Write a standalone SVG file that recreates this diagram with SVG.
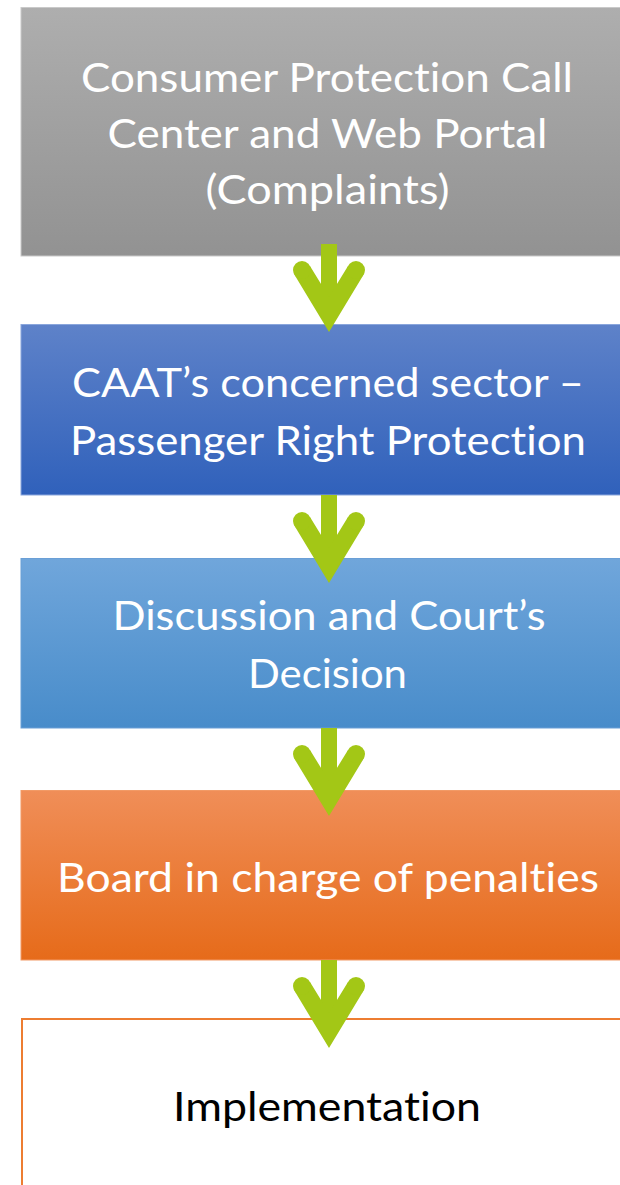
<svg xmlns="http://www.w3.org/2000/svg" width="620" height="1185" viewBox="0 0 620 1185">
  <style>
    .lbl { font-family: Lato, "Open Sans", "Liberation Sans", sans-serif; font-size: 41px; fill: #ffffff; text-anchor: middle; font-variant-ligatures: none; font-feature-settings: "liga" 0, "clig" 0; }
    .dark { fill: #000000; }
    .box { stroke-width: 1; }
    .arrow { fill: #a3c716; }
  </style>
  <defs>
    <linearGradient id="gGray" x1="0" y1="0" x2="0" y2="1">
      <stop offset="0" stop-color="#aeaeae"/>
      <stop offset="1" stop-color="#929292"/>
    </linearGradient>
    <linearGradient id="gBlue" x1="0" y1="0" x2="0" y2="1">
      <stop offset="0" stop-color="#5e82c9"/>
      <stop offset="1" stop-color="#3061bb"/>
    </linearGradient>
    <linearGradient id="gSky" x1="0" y1="0" x2="0" y2="1">
      <stop offset="0" stop-color="#70a6db"/>
      <stop offset="1" stop-color="#488cca"/>
    </linearGradient>
    <linearGradient id="gOrange" x1="0" y1="0" x2="0" y2="1">
      <stop offset="0" stop-color="#f08e58"/>
      <stop offset="1" stop-color="#e66b1a"/>
    </linearGradient>
    <!-- down arrow: shaft plus rounded chevron head -->
    <g id="downArrow" class="arrow">
      <rect x="321" y="244" width="16" height="58"/>
      <polygon points="293.7,273.6 329,332 364.3,273.6 347.7,266.4 329,297 310.3,266.4"/>
      <circle cx="302" cy="270" r="9"/>
      <circle cx="356" cy="270" r="9"/>
    </g>
  </defs>

  <g id="node-complaints">
    <rect class="box" x="21" y="7.5" width="620" height="248.5" fill="url(#gGray)" stroke="#c9c9c9"/>
    <text class="lbl" x="327" y="92" textLength="492" lengthAdjust="spacingAndGlyphs">Consumer Protection Call</text>
    <text class="lbl" x="327.5" y="148" textLength="440" lengthAdjust="spacingAndGlyphs">Center and Web Portal</text>
    <text class="lbl" x="327.5" y="204" textLength="244" lengthAdjust="spacingAndGlyphs">(Complaints)</text>
  </g>

  <g id="node-caat">
    <rect class="box" x="21" y="324.5" width="620" height="170.5" fill="url(#gBlue)" stroke="#8aa6dc"/>
    <text class="lbl" x="328" y="397" textLength="512" lengthAdjust="spacingAndGlyphs">CAAT’s concerned sector –</text>
    <text class="lbl" x="328" y="455" textLength="516" lengthAdjust="spacingAndGlyphs">Passenger Right Protection</text>
  </g>

  <g id="node-court">
    <rect class="box" x="21" y="558.5" width="620" height="169.5" fill="url(#gSky)" stroke="#6a9fd6"/>
    <text class="lbl" x="329" y="630" textLength="433" lengthAdjust="spacingAndGlyphs">Discussion and Court’s</text>
    <text class="lbl" x="327.5" y="688" textLength="159" lengthAdjust="spacingAndGlyphs">Decision</text>
  </g>

  <g id="node-board">
    <rect class="box" x="21" y="790.5" width="620" height="169.5" fill="url(#gOrange)" stroke="#f29a66"/>
    <text class="lbl" x="328" y="892" textLength="542" lengthAdjust="spacingAndGlyphs">Board in charge of penalties</text>
  </g>

  <g id="node-implementation">
    <rect x="22" y="1019" width="620" height="200" fill="#ffffff" stroke="#ed7d31" stroke-width="2"/>
    <text class="lbl dark" x="327" y="1121" textLength="308" lengthAdjust="spacingAndGlyphs">Implementation</text>
  </g>

  <g id="connectors">
    <use href="#downArrow"/>
    <use href="#downArrow" transform="translate(0,251)"/>
    <use href="#downArrow" transform="translate(0,484)"/>
    <use href="#downArrow" transform="translate(0,716)"/>
  </g>
</svg>
